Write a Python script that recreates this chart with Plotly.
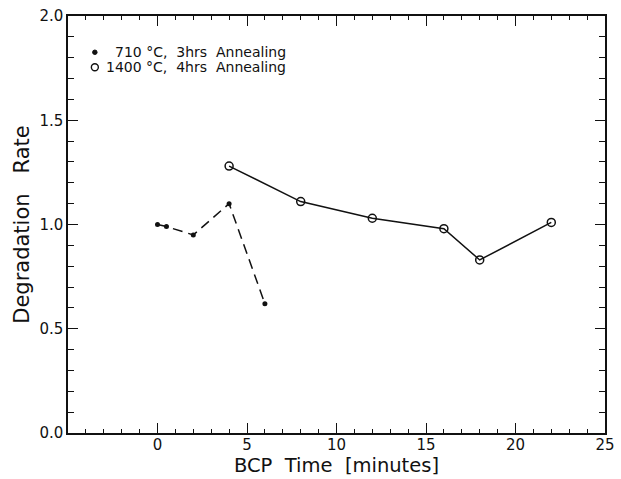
import plotly.graph_objects as go

# Data
time_710 = [0, 0.5, 2, 4, 6]
rate_710 = [1.00, 0.99, 0.95, 1.10, 0.62]

time_1400 = [4, 8, 12, 16, 18, 22]
rate_1400 = [1.28, 1.11, 1.03, 0.98, 0.83, 1.01]

x_tickvals = [-5, 0, 5, 10, 15, 20, 25]
x_ticktext = ["", "0", "5", "10", "15", "20", "25"]
y_tickvals = [0.0, 0.5, 1.0, 1.5, 2.0]
y_ticktext = ["0.0", "0.5", "1.0", "1.5", "2.0"]

x_title = "BCP\u00a0\u00a0Time\u00a0\u00a0[minutes]"
y_title = "Degradation\u00a0\u00a0\u00a0Rate"
legend_labels = ["710\u00a0°C,\u00a0\u00a03hrs\u00a0\u00a0Annealing",
                 "1400\u00a0°C,\u00a0\u00a04hrs\u00a0\u00a0Annealing"]

FONT = "DejaVu Sans"
INK = "#111111"

fig = go.Figure()
fig.add_trace(go.Scatter(
    x=time_710, y=rate_710, mode="lines+markers",
    line=dict(color=INK, width=1.5, dash="10px,6px"),
    marker=dict(symbol="circle", size=5, color=INK),
    showlegend=False))
fig.add_trace(go.Scatter(
    x=time_1400, y=rate_1400, mode="lines+markers",
    line=dict(color=INK, width=1.5),
    marker=dict(symbol="circle-open", size=8, color=INK, line=dict(width=1.5)),
    showlegend=False))

# legend (right-aligned text, symbols at left)
leg_y = [0.913, 0.877]
leg_sym_x = 0.050
fig.add_shape(type="circle", xref="paper", yref="paper",
              x0=leg_sym_x - 0.0042, x1=leg_sym_x + 0.0042,
              y0=leg_y[0] - 0.0054, y1=leg_y[0] + 0.0054,
              fillcolor=INK, line=dict(color=INK, width=1))
fig.add_shape(type="circle", xref="paper", yref="paper",
              x0=leg_sym_x - 0.0065, x1=leg_sym_x + 0.0065,
              y0=leg_y[1] - 0.0084, y1=leg_y[1] + 0.0084,
              fillcolor="white", line=dict(color=INK, width=1.4))
for lab, yy in zip(legend_labels, leg_y):
    fig.add_annotation(text=lab, xref="paper", yref="paper", x=0.41, y=yy,
                       xanchor="right", yanchor="middle", showarrow=False,
                       font=dict(family=FONT, size=14, color=INK))

axis_common = dict(
    showline=True, linecolor=INK, linewidth=1.5, mirror="ticks",
    ticks="inside", tickcolor=INK, tickwidth=1.2,
    showgrid=False, zeroline=False,
    tickfont=dict(family=FONT, size=15, color=INK),
)

fig.update_xaxes(
    range=[-5, 25], tickmode="array", tickvals=x_tickvals, ticktext=x_ticktext,
    ticklen=10, ticklabelstandoff=-3,
    minor=dict(dtick=1, ticklen=4, ticks="inside", tickcolor=INK, tickwidth=1.2, showgrid=False),
    title=dict(text=x_title, standoff=0,
               font=dict(family=FONT, size=19.5, color=INK)),
    **axis_common)
fig.update_yaxes(
    range=[0, 2], tickmode="array", tickvals=y_tickvals, ticktext=y_ticktext,
    ticklen=10,
    minor=dict(dtick=0.1, ticklen=6, ticks="inside", tickcolor=INK, tickwidth=1.2, showgrid=False),
    title=dict(text=y_title, standoff=4,
               font=dict(family=FONT, size=21, color=INK)),
    **axis_common)

fig.update_layout(
    width=621, height=479,
    margin=dict(l=68, r=16, t=16, b=46, autoexpand=False),
    paper_bgcolor="white", plot_bgcolor="white",
    font=dict(family=FONT, color=INK),
)

fig.write_html("out.html", config={"displayModeBar": False},
               post_script="document.body.style.margin='0';document.body.style.overflow='hidden';")
